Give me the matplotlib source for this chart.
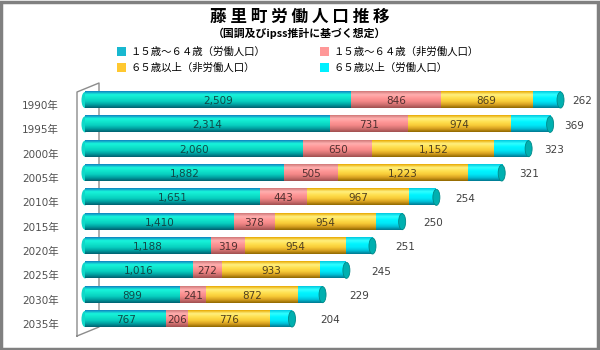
import matplotlib
matplotlib.use('Agg')
import matplotlib.pyplot as plt
import numpy as np
from matplotlib.colors import LinearSegmentedColormap
from matplotlib.patches import Ellipse, Patch, Rectangle
from matplotlib.lines import Line2D
from matplotlib.transforms import ScaledTranslation

plt.rcParams['font.family'] = ['DejaVu Sans', 'Noto Sans CJK JP']
JP = ['Noto Sans CJK JP', 'DejaVu Sans']

years = ['1990年', '1995年', '2000年', '2005年', '2010年',
         '2015年', '2020年', '2025年', '2030年', '2035年']
work_15_64 = [2509, 2314, 2060, 1882, 1651, 1410, 1188, 1016, 899, 767]
nonwork_15_64 = [846, 731, 650, 505, 443, 378, 319, 272, 241, 206]
nonwork_65 = [869, 974, 1152, 1223, 967, 954, 954, 933, 872, 776]
work_65 = [262, 369, 323, 321, 254, 250, 251, 245, 229, 204]

labels = ['１５歳～６４歳（労働人口）', '１５歳～６４歳（非労働人口）',
          '６５歳以上（非労働人口）', '６５歳以上（労働人口）']

# gradient colours top -> bottom, to fake the cylinders
grads = [
    ['#1080c0', '#18f4dc', '#10e4cc', '#08d0c0', '#00a0a0', '#006070'],
    ['#d07878', '#ffb0b0', '#ff9898', '#f48888', '#d07070', '#a05050'],
    ['#e8a800', '#fff080', '#ffe050', '#f8cc38', '#d8a020', '#906800'],
    ['#00c8e0', '#30ffff', '#00f4ff', '#00e8f8', '#00c0d8', '#007890'],
]
legend_cols = ['#18b8d0', '#ff9898', '#ffc830', '#00f0ff']
text_cols = ['#104848', '#503030', '#504020']

fig = plt.figure(figsize=(6, 3.5), dpi=100)
ax = fig.add_axes([78 / 600, 15 / 350, 518 / 600, 252 / 350])

s = 0.106  # px per unit
ys = np.arange(len(years))
h = 0.66
cap_w = 7 / s
grad = np.linspace(0, 1, 64).reshape(-1, 1)

left = np.zeros(len(years))
all_series = [work_15_64, nonwork_15_64, nonwork_65, work_65]
for k, vals in enumerate(all_series):
    cmap = LinearSegmentedColormap.from_list('c%d' % k, grads[k])
    for i, v in enumerate(vals):
        ax.imshow(grad, cmap=cmap, extent=(left[i], left[i] + v, ys[i] + h / 2, ys[i] - h / 2),
                  aspect='auto', interpolation='bilinear', zorder=2)
        if k < 3:
            ax.text(left[i] + v / 2, ys[i] + 0.04, f'{v:,}', ha='center', va='center',
                    fontsize=7.5, color=text_cols[k], zorder=5)
    left += np.array(vals)

for i in range(len(years)):
    ax.add_patch(Ellipse((0, ys[i]), cap_w, h, facecolor='#10d8c8', edgecolor='none', zorder=1))
    ax.add_patch(Ellipse((left[i], ys[i]), cap_w, h, facecolor='#00b0b0',
                         edgecolor='#008888', lw=0.6, zorder=3))
    off = (12 + 1.8 * i) * 0.72
    ax.annotate(f'{work_65[i]}', xy=(left[i], ys[i]), xytext=(off, -1), textcoords='offset points',
                ha='left', va='center', fontsize=7.5, color='#404040')

# back wall of the 3d chart
ft = fig.transFigure
wall = dict(transform=ft, color='#8c8c8c', lw=1, clip_on=False, zorder=0)
ax.add_line(Line2D([77 / 600, 77 / 600, 99 / 600, 99 / 600, 77 / 600],
                   [1 - 336 / 350, 1 - 92 / 350, 1 - 83 / 350, 1 - 327 / 350, 1 - 336 / 350], **wall))

ax.set_xlim(-(85 - 78) / s, (596 - 85) / s)
ax.set_ylim(len(years) - 1 + 0.658, -0.699)
ax.set_yticks(ys)
ax.set_yticklabels(years, fontsize=7.5, color='#505050')
ax.set_xticks([])
ax.tick_params(axis='y', length=0, pad=14)
for lab in ax.get_yticklabels():
    lab.set_transform(lab.get_transform() + ScaledTranslation(0, -5 / 100, fig.dpi_scale_trans))
for sp in ax.spines.values():
    sp.set_visible(False)
ax.patch.set_visible(False)

fig.text(0.5, 1 - 17 / 350, ' '.join('藤里町労働人口推移'), ha='center', va='center',
         fontsize=12, fontweight='bold', family=JP)
fig.text(0.5, 1 - 33 / 350, '（国調及びipss推計に基づく想定）', ha='center', va='center',
         fontsize=7.8, fontweight='bold', family=JP)

handles = [Patch(facecolor=legend_cols[0]), Patch(facecolor=legend_cols[2]),
           Patch(facecolor=legend_cols[1]), Patch(facecolor=legend_cols[3])]
leg_labels = [labels[0], labels[2], labels[1], labels[3]]
fig.legend(handles, leg_labels, loc='upper left', bbox_to_anchor=(117 / 600, 1 - 47 / 350),
           ncol=2, frameon=False, prop={'family': JP, 'size': 7.5}, handlelength=0.85,
           handleheight=0.85, handletextpad=0.4, columnspacing=5.3, labelspacing=0.55,
           borderaxespad=0, borderpad=0)

fig.add_artist(Rectangle((0.002, 0.003), 0.995, 0.992, transform=ft, fill=False,
                         edgecolor='#808080', lw=2.5))

fig.savefig('out.png', dpi=100)
